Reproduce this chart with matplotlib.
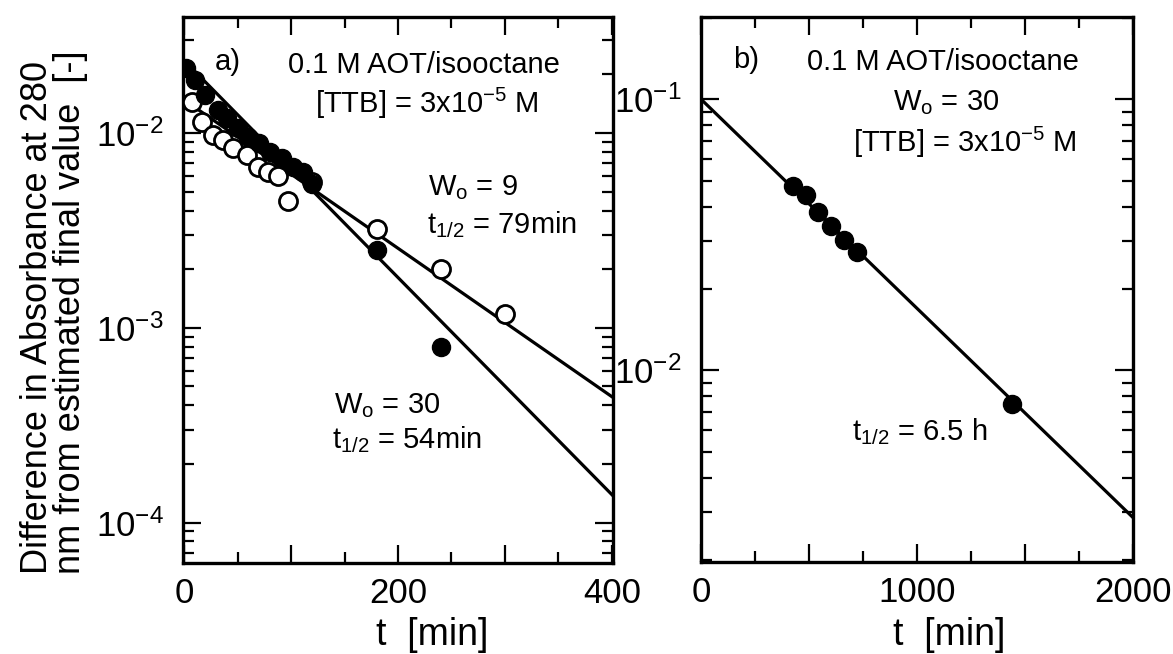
import matplotlib
matplotlib.use("Agg")
import matplotlib.pyplot as plt
import numpy as np
from matplotlib.ticker import LogLocator, MultipleLocator, FixedLocator, NullFormatter

plt.rcParams["font.family"] = ["Liberation Sans", "DejaVu Sans"]
plt.rcParams["mathtext.fontset"] = "custom"
plt.rcParams["mathtext.rm"] = "Liberation Sans"
plt.rcParams["mathtext.it"] = "Liberation Sans"
plt.rcParams["mathtext.default"] = "regular"
plt.rcParams["axes.unicode_minus"] = False

# panel a) Wo = 30 (filled) and Wo = 9 (open), t in min
t_w30 = [2, 10, 20, 32, 40, 50, 60, 70, 80, 92, 102, 111, 120, 180, 240]
a_w30 = [0.0215, 0.0187, 0.0156, 0.0131, 0.0119, 0.0106, 0.0095, 0.0089,
         0.0080, 0.0074, 0.0067, 0.0063, 0.0055, 0.0025, 0.0008]
t_w9 = [7, 17, 27, 36, 46, 59, 69, 78, 88, 97, 120, 180, 240, 300]
a_w9 = [0.0144, 0.0114, 0.0098, 0.0092, 0.0084, 0.0077, 0.0067, 0.0063,
        0.0060, 0.0045, 0.0056, 0.0032, 0.0020, 0.00118]

# fitted first-order decay lines: (A0, half-life in min)
fit_w30 = (0.0236, 54)
fit_w9 = (0.0148, 79)

# panel b) Wo = 30, long run
t_b = [426, 486, 542, 602, 662, 722, 1440]
a_b = [0.0478, 0.0443, 0.0383, 0.0340, 0.0302, 0.0272, 0.0075]
fit_b = (0.1, 390)

FS = 21


def decay(a0, th, t):
    return a0 * 2.0 ** (-np.asarray(t) / th)


def style_axes(ax, major, minor, labels):
    ax.set_yscale("log")
    ax.xaxis.set_major_locator(FixedLocator(major))
    ax.set_xticklabels(labels)
    ax.xaxis.set_minor_locator(MultipleLocator(minor))
    ax.yaxis.set_major_locator(LogLocator(base=10, numticks=20))
    ax.yaxis.set_minor_locator(LogLocator(base=10, subs=np.arange(2, 10), numticks=20))
    ax.yaxis.set_minor_formatter(NullFormatter())
    ax.tick_params(which="both", direction="in", top=True, right=True,
                   labelsize=25, width=1.6)
    ax.tick_params(which="major", length=13)
    ax.tick_params(which="minor", length=8)
    ax.tick_params(axis="x", which="major", pad=10)
    ax.tick_params(axis="y", which="major", pad=14)
    for s in ax.spines.values():
        s.set_linewidth(2.4)


def note(ax, x, y, s):
    ax.text(x, y, s, transform=ax.transAxes, fontsize=FS, va="baseline", ha="left")


fig = plt.figure(figsize=(11.73, 6.54), dpi=100)
ax1 = fig.add_axes([183 / 1173, 1 - 563 / 654, 430 / 1173, 546 / 654])
ax2 = fig.add_axes([701 / 1173, 1 - 562 / 654, 432 / 1173, 545 / 654])

tl = np.array([-1, 401])
ax1.plot(tl, decay(*fit_w30, tl), color="black", lw=2.3, zorder=2)
ax1.plot(tl, decay(*fit_w9, tl), color="black", lw=2.3, zorder=2)
ax1.plot(t_w9, a_w9, "o", ms=13, mfc="white", mec="black", mew=2.0, zorder=3)
ax1.plot(t_w30, a_w30, "o", ms=13, mfc="black", mec="black", zorder=4)
ax1.set_xlim(-1, 401)
ax1.set_ylim(6.2e-5, 0.0394)
style_axes(ax1, [0, 100, 200, 300, 400], 50, ["0", "", "200", "", "400"])

fig.text(54 / 1173, 1 - 312 / 654,
         "Difference in Absorbance at 280\nnm from estimated final value  [-]",
         rotation=90, fontsize=26, ha="center", va="center",
         multialignment="left", linespacing=0.95)

note(ax1, 0.074, 0.903, "a)")
note(ax1, 0.244, 0.897, "0.1 M AOT/isooctane")
note(ax1, 0.307, 0.824, "[TTB] = 3x10$^{-5}$ M")
note(ax1, 0.570, 0.674, "W$_o$ = 9")
note(ax1, 0.567, 0.604, "t$_{1/2}$ = 79min")
note(ax1, 0.351, 0.275, "W$_o$ = 30")
note(ax1, 0.347, 0.211, "t$_{1/2}$ = 54min")

tb = np.array([0, 2000])
ax2.plot(tb, decay(*fit_b, tb), color="black", lw=2.3, zorder=2)
ax2.plot(t_b, a_b, "o", ms=13, mfc="black", mec="black", zorder=4)
ax2.set_xlim(0, 2000)
ax2.set_ylim(1.96e-3, 0.201)
style_axes(ax2, [0, 500, 1000, 1500, 2000], 250, ["0", "", "1000", "", "2000"])

note(ax2, 0.074, 0.906, "b)")
note(ax2, 0.245, 0.903, "0.1 M AOT/isooctane")
note(ax2, 0.444, 0.829, "W$_o$ = 30")
note(ax2, 0.352, 0.752, "[TTB] = 3x10$^{-5}$ M")
note(ax2, 0.350, 0.224, "t$_{1/2}$ = 6.5 h")

# x-axis titles
for x0 in (376, 893):
    fig.text(x0 / 1173, 1 - 645 / 654, "t  [min]", fontsize=27,
             ha="left", va="baseline")

fig.savefig("out.png", dpi=100)
